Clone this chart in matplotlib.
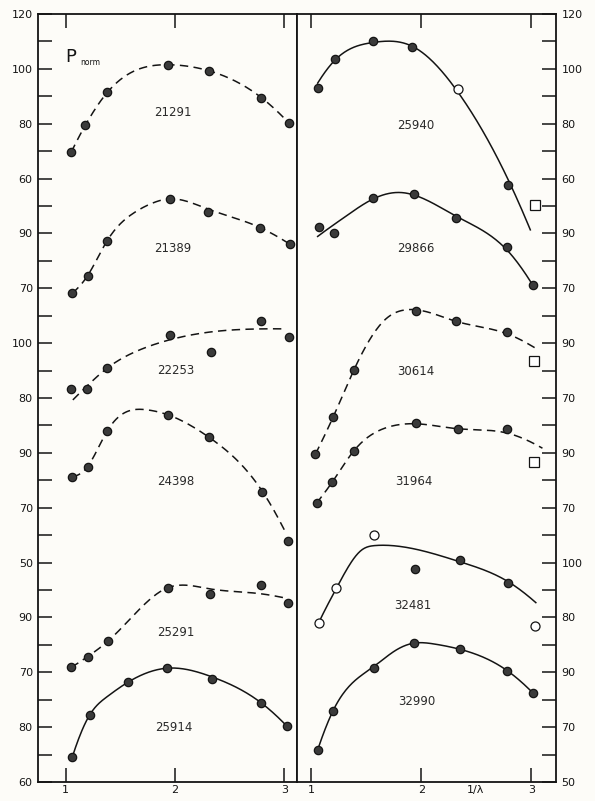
import numpy as np
import matplotlib
matplotlib.use("Agg")
import matplotlib.pyplot as plt

# Normalised polarisation P_norm vs 1/lambda, twelve stars stacked with offsets.
# Values are in the units of each curve's own tick labels.

# ---- left column ----
name_21291 = "21291"
x_21291 = [1.05, 1.18, 1.38, 1.94, 2.31, 2.79, 3.04]
p_21291 = [69.6, 79.5, 91.4, 101.5, 99.3, 89.5, 80.3]

name_21389 = "21389"
x_21389 = [1.06, 1.20, 1.38, 1.95, 2.30, 2.78, 3.05]
p_21389 = [68.2, 74.6, 87.4, 102.5, 97.9, 92.1, 86.1]
fitx_21389 = [1.06, 1.20, 1.38, 1.62, 1.79, 1.95, 2.30, 2.78, 3.05]
fitp_21389 = [68.2, 74.6, 87.4, 97.4, 101.0, 102.6, 98.9, 92.1, 86.1]

name_22253 = "22253"
x_22253 = [1.05, 1.19, 1.38, 1.95, 2.33, 2.79, 3.04]
p_22253 = [83.2, 83.4, 90.9, 103.1, 96.8, 108.2, 102.2]
fitx_22253 = [1.065, 1.19, 1.38, 1.68, 1.95, 2.35, 2.79, 3.00]
fitp_22253 = [79.3, 84.2, 90.9, 97.6, 101.2, 104.2, 105.2, 105.2]

name_24398 = "24398"
x_24398 = [1.06, 1.20, 1.38, 1.94, 2.31, 2.80, 3.03]
p_24398 = [81.3, 85.0, 98.0, 103.8, 95.7, 75.9, 58.0]
fitx_24398 = [1.06, 1.20, 1.38, 1.74, 1.94, 2.31, 2.80, 3.00]
fitp_24398 = [81.3, 85.0, 98.0, 105.7, 103.8, 95.7, 75.9, 61.9]

name_25291 = "25291"
x_25291 = [1.05, 1.20, 1.39, 1.94, 2.32, 2.79, 3.03]
p_25291 = [71.8, 75.7, 81.5, 100.8, 98.7, 101.7, 95.3]
fitx_25291 = [1.05, 1.20, 1.39, 1.68, 1.92, 2.32, 2.79, 3.02]
fitp_25291 = [71.8, 75.7, 81.5, 93.2, 100.6, 100.4, 98.6, 97.0]

name_25914 = "25914"
x_25914 = [1.06, 1.22, 1.57, 1.93, 2.34, 2.79, 3.02]
p_25914 = [69.1, 84.5, 96.4, 101.5, 97.7, 88.8, 80.5]
fitx_25914 = [1.06, 1.22, 1.375, 1.57, 1.93, 2.34, 2.79, 3.02]
fitp_25914 = [69.1, 84.5, 91.0, 96.4, 101.5, 98.3, 88.8, 80.5]

# ---- right column ----
name_25940 = "25940"
x_25940 = [1.06, 1.22, 1.56, 1.92, 2.33, 2.79, 3.03]
p_25940 = [93.0, 103.7, 110.1, 107.9, 92.6, 57.7, 50.3]
kind_25940 = ["f", "f", "f", "f", "o", "f", "s"]
fitx_25940 = [1.06, 1.22, 1.56, 1.76, 1.92, 2.33, 2.79, 2.99]
fitp_25940 = [94.8, 103.3, 109.6, 110.0, 108.2, 91.7, 59.5, 41.3]

name_29866 = "29866"
x_29866 = [1.07, 1.21, 1.56, 1.93, 2.32, 2.78, 3.01]
p_29866 = [92.5, 90.1, 102.9, 104.4, 95.6, 85.2, 71.3]
fitx_29866 = [1.06, 1.31, 1.56, 1.82, 2.32, 2.80, 3.01]
fitp_29866 = [88.9, 96.1, 102.5, 104.9, 96.2, 83.0, 71.3]

name_30614 = "30614"
x_30614 = [1.04, 1.20, 1.39, 1.95, 2.32, 2.78, 3.02]
p_30614 = [49.5, 63.0, 80.3, 101.9, 97.9, 94.0, 83.6]
kind_30614 = ["f", "f", "f", "f", "f", "f", "s"]
fitx_30614 = [1.04, 1.20, 1.39, 1.67, 1.85, 2.32, 2.78, 3.06]
fitp_30614 = [49.5, 63.0, 80.3, 98.5, 102.1, 97.9, 93.4, 87.6]

name_31964 = "31964"
x_31964 = [1.05, 1.19, 1.39, 1.95, 2.33, 2.78, 3.02]
p_31964 = [71.6, 79.2, 90.8, 100.8, 98.8, 98.8, 86.8]
kind_31964 = ["f", "f", "f", "f", "f", "f", "s"]
fitx_31964 = [1.05, 1.19, 1.39, 1.67, 1.95, 2.33, 2.78, 3.10]
fitp_31964 = [71.6, 79.2, 90.8, 99.0, 100.6, 98.8, 97.2, 91.7]

name_32481 = "32481"
x_32481 = [1.07, 1.23, 1.57, 1.94, 2.35, 2.79, 3.03]
p_32481 = [78.1, 90.6, 110.1, 97.8, 101.0, 92.7, 76.9]
kind_32481 = ["o", "o", "o", "f", "f", "f", "o"]
fitx_32481 = [1.07, 1.23, 1.46, 1.58, 1.76, 2.35, 2.79, 3.04]
fitp_32481 = [78.1, 90.6, 104.6, 106.2, 106.1, 100.3, 93.0, 85.4]

name_32990 = "32990"
x_32990 = [1.06, 1.20, 1.57, 1.93, 2.35, 2.78, 3.01]
p_32990 = [61.7, 76.0, 91.5, 100.6, 98.4, 90.6, 82.6]
fitx_32990 = [1.06, 1.20, 1.57, 1.76, 1.93, 2.12, 2.35, 2.78, 3.01]
fitp_32990 = [61.7, 76.0, 92.1, 97.8, 100.6, 100.3, 98.4, 90.6, 82.6]

# tick labels, bottom to top (one per labelled tick)
left_labels = [60, 80, 70, 90, 50, 70, 90, 80, 100, 70, 90, 60, 80, 100, 120]
right_labels = [50, 70, 90, 80, 100, 70, 90, 70, 90, 70, 90, 60, 80, 100, 120]
x_ticks = [1, 2, 3]

BG = "#fdfcf8"
INK = "#141414"
DOT = "#3a3a3a"
STEP = 10.0  # label units per minor tick


def smooth_curve(xs, ys, n=200):
    # C2 cubic spline, end slopes taken from the parabola through the end knots
    x = np.asarray(xs, float)
    y = np.asarray(ys, float)
    k = len(x)
    h = np.diff(x)
    s = np.diff(y) / h
    A = np.zeros((k, k))
    b = np.zeros(k)
    A[0, 0] = A[-1, -1] = 1
    b[0] = ((2 * h[0] + h[1]) * s[0] - h[0] * s[1]) / (h[0] + h[1])
    b[-1] = ((2 * h[-1] + h[-2]) * s[-1] - h[-1] * s[-2]) / (h[-1] + h[-2])
    for i in range(1, k - 1):
        A[i, i - 1] = h[i]
        A[i, i] = 2 * (h[i - 1] + h[i])
        A[i, i + 1] = h[i - 1]
        b[i] = 3 * (h[i] * s[i - 1] + h[i - 1] * s[i])
    d = np.linalg.solve(A, b)
    xx = np.linspace(x[0], x[-1], n)
    j = np.clip(np.searchsorted(x, xx) - 1, 0, k - 2)
    hh = h[j]
    t = (xx - x[j]) / hh
    h00 = 2 * t ** 3 - 3 * t ** 2 + 1
    h10 = t ** 3 - 2 * t ** 2 + t
    h01 = -2 * t ** 3 + 3 * t ** 2
    h11 = t ** 3 - t ** 2
    yy = h00 * y[j] + h10 * hh * d[j] + h01 * y[j + 1] + h11 * hh * d[j + 1]
    return xx, yy


def draw_star(ax, name, xs, ps, ref_p, ref_u, dashed, label_xy,
              kinds=None, fitx=None, fitp=None):
    to_u = lambda v: ref_u + (np.asarray(v, float) - ref_p) / STEP
    fx = xs if fitx is None else fitx
    fp = ps if fitp is None else fitp
    cx, cy = smooth_curve(fx, to_u(fp))
    ls = (0, (5.5, 3.5)) if dashed else "-"
    ax.plot(cx, cy, color=INK, lw=1.1, ls=ls, zorder=2)
    kinds = kinds or ["f"] * len(xs)
    us = to_u(ps)
    for x, u, k in zip(xs, us, kinds):
        if k == "f":
            ax.plot(x, u, "o", ms=6, mfc=DOT, mec=INK, mew=0.9, zorder=3)
        elif k == "o":
            ax.plot(x, u, "o", ms=6.5, mfc="white", mec=INK, mew=0.9, zorder=3)
        else:
            ax.plot(x, u, "s", ms=6.5, mfc="white", mec=INK, mew=0.9, zorder=3)
    ax.text(label_xy[0], label_xy[1], name, fontsize=8.5, color="#2a2a2a",
            ha="center", va="center")


fig = plt.figure(figsize=(5.95, 8.01), dpi=100)
fig.patch.set_facecolor(BG)
bottom = 1 - 782 / 801
height = 768 / 801
axL = fig.add_axes([38.3 / 595, bottom, (296.7 - 38.3) / 595, height])
axR = fig.add_axes([296.7 / 595, bottom, (556 - 296.7) / 595, height])

for ax, labels in ((axL, left_labels), (axR, right_labels)):
    ax.set_facecolor(BG)
    ax.set_ylim(0, 28)
    ax.set_yticks(range(29))
    ax.set_yticklabels([str(labels[i // 2]) if i % 2 == 0 else "" for i in range(29)])
    ax.set_xticks(x_ticks)
    ax.set_xticklabels([str(t) for t in x_ticks])
    ax.tick_params(axis="both", direction="in", length=10, width=1.1,
                   labelsize=8, colors=INK, top=True)
    ax.tick_params(axis="x", pad=2)
    for s in ax.spines.values():
        s.set_linewidth(1.3)
        s.set_color(INK)

axL.set_xlim(0.749, 3.113)
axL.tick_params(axis="y", left=True, right=False, pad=4)
axR.set_xlim(0.870, 3.223)
axR.yaxis.tick_right()
axR.tick_params(axis="y", left=False, right=True, labelright=True,
                labelleft=False, direction="in", length=10, width=1.1, pad=4)

# left column
draw_star(axL, name_21291, x_21291, p_21291, 100, 26, True, (1.98, 24.42))
draw_star(axL, name_21389, x_21389, p_21389, 90, 20, True, (1.98, 19.46),
          fitx=fitx_21389, fitp=fitp_21389)
draw_star(axL, name_22253, x_22253, p_22253, 100, 16, True, (2.01, 14.99),
          fitx=fitx_22253, fitp=fitp_22253)
draw_star(axL, name_24398, x_24398, p_24398, 90, 12, True, (2.01, 10.95),
          fitx=fitx_24398, fitp=fitp_24398)
draw_star(axL, name_25291, x_25291, p_25291, 90, 6, True, (2.01, 5.46),
          fitx=fitx_25291, fitp=fitp_25291)
draw_star(axL, name_25914, x_25914, p_25914, 80, 2, False, (1.99, 1.99),
          fitx=fitx_25914, fitp=fitp_25914)

# right column
draw_star(axR, name_25940, x_25940, p_25940, 100, 26, False, (1.95, 23.92),
          kinds=kind_25940, fitx=fitx_25940, fitp=fitp_25940)
draw_star(axR, name_29866, x_29866, p_29866, 90, 20, False, (1.95, 19.46),
          fitx=fitx_29866, fitp=fitp_29866)
draw_star(axR, name_30614, x_30614, p_30614, 90, 16, True, (1.95, 14.96),
          kinds=kind_30614, fitx=fitx_30614, fitp=fitp_30614)
draw_star(axR, name_31964, x_31964, p_31964, 90, 12, True, (1.93, 10.95),
          kinds=kind_31964, fitx=fitx_31964, fitp=fitp_31964)
draw_star(axR, name_32481, x_32481, p_32481, 100, 8, False, (1.92, 6.45),
          kinds=kind_32481, fitx=fitx_32481, fitp=fitp_32481)
draw_star(axR, name_32990, x_32990, p_32990, 90, 4, False, (1.96, 2.93),
          fitx=fitx_32990, fitp=fitp_32990)

axL.text(1.0, 26.45, "P", fontsize=13, color=INK, ha="left", va="center")
axL.text(1.13, 26.22, "norm", fontsize=5.5, color=INK, ha="left", va="center")
axR.text(2.49, -0.12, "1/λ", fontsize=8, color=INK, ha="center", va="top")

fig.savefig("out.png", dpi=100, facecolor=BG)
